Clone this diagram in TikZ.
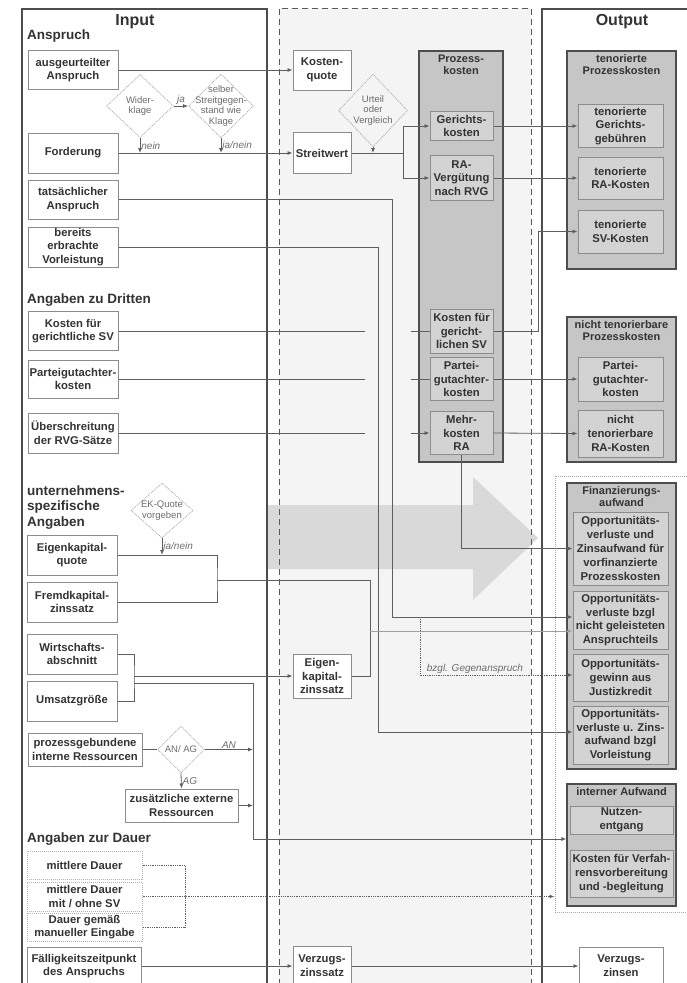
\documentclass[tikz,border=0pt]{standalone}
\usepackage{fontspec}
\setmainfont{Liberation Sans}
\usetikzlibrary{shapes.geometric, arrows.meta, positioning}
\definecolor{txt}{HTML}{333333}
\definecolor{frame}{HTML}{4D4D4D}
\definecolor{boxline}{HTML}{8C8C8C}
\definecolor{grpfill}{HTML}{C6C6C6}
\definecolor{subfill}{HTML}{D3D3D3}
\definecolor{midbg}{HTML}{F4F4F4}
\definecolor{conncol}{HTML}{5E5E5E}
\definecolor{arrowbg}{HTML}{D9D9D9}

\tikzset{
  base/.style={align=center, text=txt, font=\bfseries\fontsize{11.3}{13.8}\selectfont, inner xsep=1pt, inner ysep=0pt},
  inbox/.style={base, draw=boxline, line width=1pt, fill=white, minimum width=90pt},
  midbox/.style={inbox, minimum width=58pt},
  dotbox/.style={inbox, densely dotted, draw=gray!60, minimum width=115pt},
  grpbox/.style={draw=frame, line width=1.2pt, fill=grpfill, minimum width=109pt},
  subbox/.style={base, draw=boxline, line width=1pt, fill=subfill, minimum width=85pt},
  ttl/.style={base, font=\bfseries\fontsize{11}{12}\selectfont, anchor=north, inner ysep=4pt},
  heading/.style={text=txt, font=\bfseries\fontsize{13.5}{15.5}\selectfont, anchor=west, align=left, inner sep=0pt},
  colhead/.style={text=txt, font=\bfseries\fontsize{16}{18}\selectfont, inner sep=0pt},
  decision/.style={diamond, draw=gray!65, densely dotted, line width=0.9pt, inner sep=0pt},
  dtext/.style={align=center, text=gray!85!black, font=\fontsize{9.5}{10.5}\selectfont, inner sep=0pt},
  lbl/.style={text=gray!85!black, font=\itshape\fontsize{10}{12}\selectfont, inner sep=1pt},
  conn/.style={draw=conncol, line width=0.8pt, >={Latex[length=5pt,width=4pt]}},
  dotconn/.style={conn, densely dotted, line width=1pt},
}

\begin{document}
\begin{tikzpicture}[x=1pt, y=-1pt]
  \useasboundingbox (0,0) rectangle (686,983);

  % columns
  \fill[midbg] (279,8) rectangle (531,995);
  \fill[arrowbg] (267,505) -- (473,505) -- (473,477) -- (538,538) -- (473,600) -- (473,569) -- (267,569) -- cycle;
  \draw[gray!70!black, line width=1pt, dash pattern=on 6pt off 4pt] (279,995) -- (279,8) -- (531,8) -- (531,995);
  \draw[frame, line width=1.3pt] (22,995) -- (22,9) -- (267,9) -- (267,995);
  \draw[frame, line width=1.3pt] (542,995) -- (542,9) -- (695,9);

  \node[colhead] (inhead) at (135,22) {Input};
  \node[colhead] (outhead) at (622,22) {Output};

  % input side
  \node[heading] (hanspruch) at (27,36) {Anspruch};
  \node[inbox, minimum height=39pt] (ausg) at (73,70) {ausgeurteilter\\Anspruch};
  \node[decision, minimum width=67pt, minimum height=63pt, label={[dtext]center:{Wider-\\klage}}] (wk) at (140,106) {};
  \node[decision, minimum width=65pt, minimum height=64pt, label={[dtext]center:{selber\\Streitgegen-\\stand wie\\Klage}}] (sg) at (221,106) {};
  \node[inbox, minimum height=40pt] (ford) at (73,153) {Forderung};
  \node[inbox, minimum height=39pt] (tats) at (73,199.5) {tatsächlicher\\Anspruch};
  \node[inbox, minimum height=40pt] (bereits) at (73,247) {bereits\\erbrachte\\Vorleistung};

  \node[heading] (hdritte) at (27,300) {Angaben zu Dritten};
  \node[inbox, minimum height=39pt] (kostenSV) at (73,331) {Kosten für\\gerichtliche SV};
  \node[inbox, minimum height=38pt] (partei) at (73,379) {Parteigutachter-\\kosten};
  \node[inbox, minimum height=40pt] (ueber) at (73,433) {Überschreitung\\der RVG-Sätze};

  \node[heading] (hunt) at (27,507.5) {unternehmens-\\spezifische\\Angaben};
  \node[decision, minimum width=62pt, minimum height=55pt, label={[dtext]center:{EK-Quote\\vorgeben}}] (ekd) at (162,510.5) {};
  \node[inbox, minimum height=40pt] (ekq) at (72,555) {Eigenkapital-\\quote};
  \node[inbox, minimum height=40pt] (fkz) at (72,602) {Fremdkapital-\\zinssatz};
  \node[inbox, minimum height=40pt] (wirt) at (72,654) {Wirtschafts-\\abschnitt};
  \node[inbox, minimum height=40pt] (umsatz) at (72,701) {Umsatzgröße};
  \node[inbox, minimum width=114pt, minimum height=33pt] (prozint) at (85,749.5) {prozessgebundene\\interne Ressourcen};
  \node[decision, minimum width=47pt, minimum height=47pt, label={[dtext]center:{AN/ AG}}] (an) at (181,749.5) {};
  \node[inbox, minimum width=113pt, minimum height=33pt] (zusext) at (181.5,805.5) {zusätzliche externe\\Ressourcen};

  \node[heading] (hdauer) at (27,839) {Angaben zur Dauer};
  \node[dotbox, minimum height=28pt] (mdauer) at (84.5,865) {mittlere Dauer};
  \node[dotbox, minimum height=29pt] (mdsv) at (84.5,896.5) {mittlere Dauer\\mit / ohne SV};
  \node[dotbox, minimum height=28pt] (dmanual) at (84.5,927) {Dauer gemäß\\manueller Eingabe};
  \node[inbox, minimum width=114pt, minimum height=38pt] (faellig) at (84,966) {Fälligkeitszeitpunkt\\des Anspruchs};

  % middle
  \node[midbox, minimum height=40pt] (kq) at (322,70) {Kosten-\\quote};
  \node[decision, minimum width=69pt, minimum height=73pt, label={[dtext]center:{Urteil\\oder\\Vergleich}}] (uv) at (373,110.5) {};
  \node[midbox, minimum height=41pt] (sw) at (322,153) {Streitwert};
  \node[midbox, minimum height=44pt] (ekz) at (322,676) {Eigen-\\kapital-\\zinssatz};
  \node[midbox, minimum height=39pt] (vzs) at (322,966) {Verzugs-\\zinssatz};

  \node[grpbox, minimum width=84pt, minimum height=411pt] (pk) at (461,256.5) {};
  \node[ttl] (pkttl) at (pk.north) {Prozess-\\kosten};
  \node[subbox, minimum width=63pt, minimum height=29pt] (gk) at (461.5,126) {Gerichts-\\kosten};
  \node[subbox, minimum width=63pt, minimum height=45pt] (rav) at (461.5,178) {RA-\\Vergütung\\nach RVG};
  \node[subbox, minimum width=63pt, minimum height=44pt] (ksv) at (461.5,331) {Kosten für\\gericht-\\lichen SV};
  \node[subbox, minimum width=63pt, minimum height=43pt] (pgk) at (461.5,379) {Partei-\\gutachter-\\kosten};
  \node[subbox, minimum width=63pt, minimum height=43pt] (mkra) at (461.5,433) {Mehr-\\kosten\\RA};

  % output side
  \node[grpbox, minimum height=218pt] (tpk) at (621.5,160) {};
  \node[ttl] (tpkttl) at (tpk.north) {tenorierte\\Prozesskosten};
  \node[subbox, minimum height=43pt] (tgg) at (620.5,126) {tenorierte\\Gerichts-\\gebühren};
  \node[subbox, minimum height=42pt] (trk) at (620.5,178) {tenorierte\\RA-Kosten};
  \node[subbox, minimum height=43pt] (tsv) at (620.5,231.5) {tenorierte\\SV-Kosten};

  \node[grpbox, minimum height=145pt] (ntpk) at (621.5,389.5) {};
  \node[ttl] (ntpkttl) at (ntpk.north) {nicht tenorierbare\\Prozesskosten};
  \node[subbox, minimum height=44pt] (npg) at (620.5,379) {Partei-\\gutachter-\\kosten};
  \node[subbox, minimum height=47pt] (nra) at (620.5,433.5) {nicht\\tenorierbare\\RA-Kosten};

  \node[draw=gray!70, densely dotted, line width=1pt, minimum width=135pt, minimum height=436pt] (finarea) at (622.5,694) {};
  \node[grpbox, minimum height=286pt] (fin) at (621.5,626) {};
  \node[ttl] (finttl) at (fin.north) {Finanzierungs-\\aufwand};
  \node[subbox, minimum width=95pt, minimum height=73pt] (o1) at (620.5,548.5) {Opportunitäts-\\verluste und\\Zinsaufwand für\\vorfinanzierte\\Prozesskosten};
  \node[subbox, minimum width=95pt, minimum height=58pt] (o2) at (620.5,620) {Opportunitäts-\\verluste bzgl\\nicht geleisteten\\Anspruchteils};
  \node[subbox, minimum width=95pt, minimum height=47pt] (o3) at (620.5,677.5) {Opportunitäts-\\gewinn aus\\Justizkredit};
  \node[subbox, minimum width=95pt, minimum height=58pt] (o4) at (620.5,735) {Opportunitäts-\\verluste u. Zins-\\aufwand bzgl\\Vorleistung};

  \node[grpbox, minimum height=122pt] (ia) at (621.5,845) {};
  \node[ttl] (iattl) at (ia.north) {interner Aufwand};
  \node[subbox, minimum width=103pt, minimum height=28pt] (nutz) at (621.5,820) {Nutzen-\\entgang};
  \node[subbox, minimum width=103pt, minimum height=47pt] (kfv) at (621.5,873.5) {Kosten für Verfah-\\rensvorbereitung\\und -begleitung};
  \node[inbox, minimum width=84pt, minimum height=38pt] (vz) at (621,966) {Verzugs-\\zinsen};

  % connectors: Anspruch
  \draw[conn, ->] (ausg.east) -- (kq.west);
  \draw[conn, ->] (ford.east) -- (sw.west);
  \draw[conn, ->] (wk.east) -- (sg.west) node[lbl, above, midway] {ja};
  \draw[conn, ->] (wk.south) -- (wk.south |- ford.east) node[lbl, right, midway] {nein};
  \draw[conn, ->] (sg.south) -- (sg.south |- ford.east) node[lbl, right, midway] {ja/nein};
  \draw[conn, ->] (uv.south) -- (uv.south |- sw.east);
  \coordinate (swfork) at (403,153);
  \draw[conn] (sw.east) -- (swfork);
  \draw[conn, ->] (swfork) |- (gk.west);
  \draw[conn, ->] (swfork) |- (rav.west);
  \draw[conn, ->] (gk.east) -- (tgg.west);
  \draw[conn, ->] (rav.east) -- (trk.west);
  \draw[conn, ->] (tats.east) -| (392,617) -- ([yshift=3pt]o2.west);
  \draw[conn, ->] (bereits.east) -| (378,732) -- ([yshift=3pt]o4.west);
  \draw[dotconn, ->] (420,617) |- ([yshift=2.5pt]o3.west) node[lbl, pos=0.68, above] {bzgl. Gegenanspruch};

  % connectors: Dritte
  \draw[conn] (kostenSV.east) -- ++(246,0) ++(46,0) -- (ksv.west);
  \draw[conn] (partei.east) -- ++(246,0) ++(46,0) -- (pgk.west);
  \draw[conn, ->] (ueber.east) -- ++(246,0) ++(46,0) -- (mkra.west);
  \draw[conn, ->] (ksv.east) -- (538,331) |- (tsv.west);
  \draw[conn, ->] (pgk.east) -- (npg.west);
  \draw[conn, ->] (mkra.east) -- (nra.west);
  \draw[conn, ->] (mkra.south) |- (o1.west);

  % connectors: unternehmensspezifisch
  \draw[conn, ->] (ekd.south) -- (ekd.south |- ekq.east) node[lbl, right, midway] {ja/nein};
  \draw[conn] (ekq.east) -| (217,580) |- (fkz.east);
  \draw[conn] (217,580) -- (370,580) |- (ekz.east);
  \draw[conn, draw=gray!75, ->] (370,631) -- ([yshift=-11pt]o2.west);
  \draw[conn] (wirt.east) -| (134,676) |- (umsatz.east);
  \draw[conn, ->] (134,676) -- (ekz.west);
  \coordinate (wbend) at (253,839);
  \draw[conn, ->] (134,683) -| (wbend) -- ([yshift=6pt]ia.west);
  \draw[conn] (prozint.east) -- (an.west);
  \draw[conn, ->] (an.east) -- (an.east -| wbend) node[lbl, above, midway] {AN};
  \draw[conn, ->] (an.south) -- (zusext.north) node[lbl, right, midway] {AG};
  \draw[conn, ->] (zusext.east) -- (zusext.east -| wbend);

  % connectors: Dauer
  \draw[dotconn] (mdauer.east) -| (185,897) |- (dmanual.east);
  \draw[dotconn, ->] (mdsv.east) -- (finarea.west |- mdsv.east);
  \draw[conn, ->] (faellig.east) -- (vzs.west);
  \draw[conn, ->] (vzs.east) -- (vz.west);
\end{tikzpicture}
\end{document}
